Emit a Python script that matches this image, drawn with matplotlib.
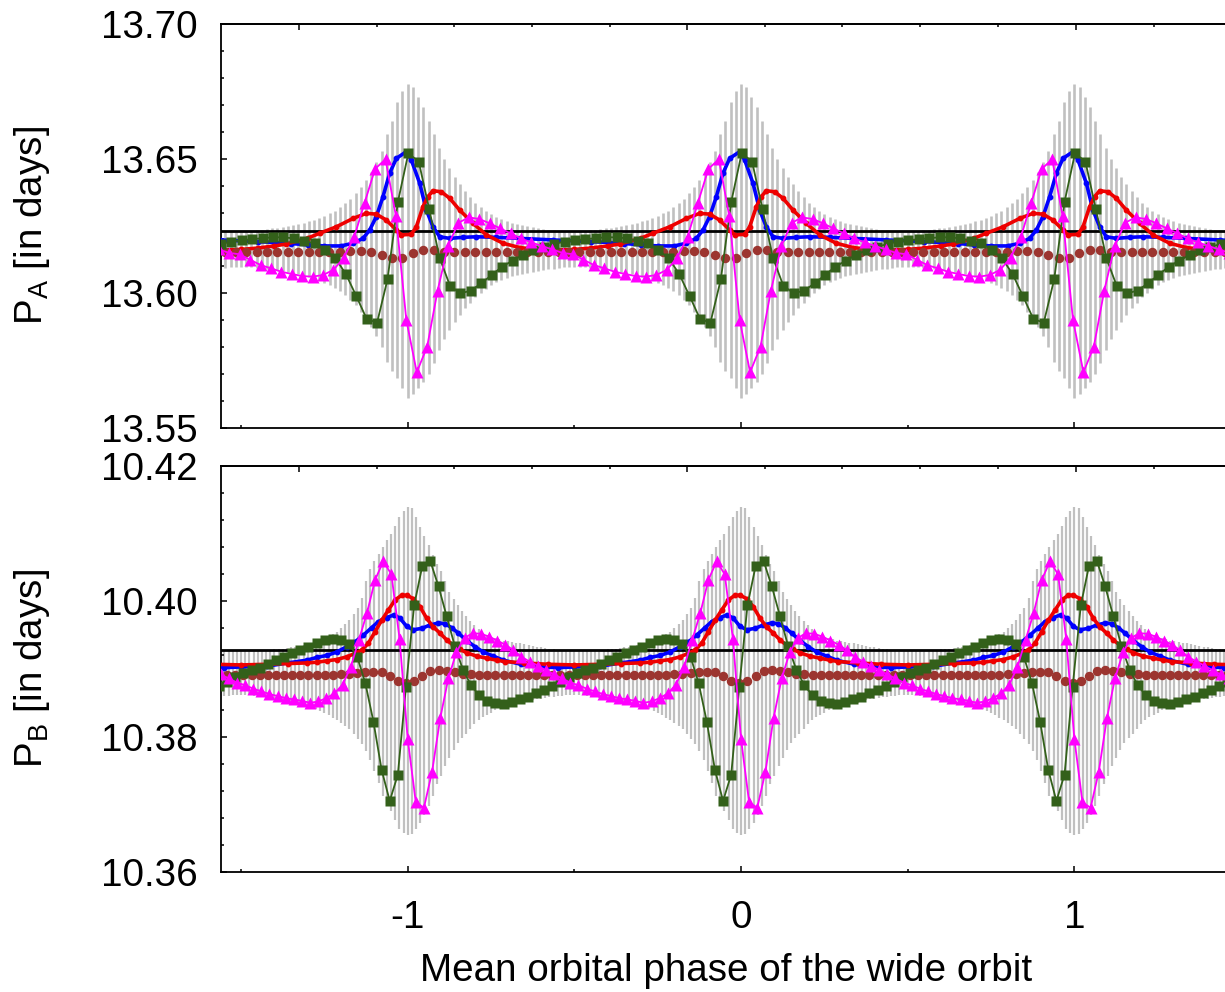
import numpy as np
import matplotlib
matplotlib.use("Agg")
import matplotlib.pyplot as plt
from matplotlib.ticker import MultipleLocator, FixedLocator, NullFormatter, FormatStrFormatter

plt.rcParams['font.family'] = ['Liberation Sans', 'DejaVu Sans']
plt.rcParams['mathtext.fontset'] = 'custom'
plt.rcParams['mathtext.rm'] = 'Liberation Sans'
plt.rcParams['mathtext.it'] = 'Liberation Sans:italic'
plt.rcParams['axes.unicode_minus'] = False

# ---------------- data: one wide-orbit cycle (phase relative to nearest integer) ----------------
cycles = [-2, -1, 0, 1, 2]

# ---- top panel: P_A ----
A_ref = 13.6231
A_n = 32                      # samples per cycle (markers)
A_mag_off, A_grn_off, A_brn_off = -0.004, 0.002, -0.016
A_mag = [13.6145, 13.6125, 13.6105, 13.6093, 13.6080, 13.6072, 13.6064, 13.6062,
         13.6068, 13.6087, 13.6132, 13.6210, 13.6337, 13.6462, 13.6498, 13.6287,
         13.5901, 13.5707, 13.5802, 13.6010, 13.6176, 13.6262, 13.6282, 13.6276,
         13.6260, 13.6241, 13.6223, 13.6204, 13.6189, 13.6176, 13.6163, 13.6150]
A_grn = [13.6197, 13.6201, 13.6205, 13.6208, 13.6208, 13.6204, 13.6195, 13.6186,
         13.6161, 13.6130, 13.6072, 13.5990, 13.5905, 13.5891, 13.6052, 13.6340,
         13.6520, 13.6489, 13.6313, 13.6132, 13.6028, 13.6000, 13.6010, 13.6037,
         13.6068, 13.6099, 13.6121, 13.6142, 13.6161, 13.6173, 13.6183, 13.6192]
A_brn = [13.6152, 13.6152, 13.6152, 13.6152, 13.6152, 13.6152, 13.6152, 13.6152,
         13.6152, 13.6152, 13.6153, 13.6157, 13.6156, 13.6153, 13.6143, 13.6131,
         13.6130, 13.6149, 13.6160, 13.6160, 13.6154, 13.6152, 13.6152, 13.6152,
         13.6152, 13.6152, 13.6152, 13.6152, 13.6152, 13.6152, 13.6152, 13.6152]
A_blue_ph = [-0.50, -0.45, -0.40, -0.35, -0.30, -0.25, -0.20, -0.164, -0.134, -0.114,
             -0.094, -0.074, -0.054, -0.034, -0.004, 0.011, 0.036, 0.056, 0.076, 0.096,
             0.126, 0.166, 0.206, 0.266, 0.336, 0.436]
A_blue = [13.6195, 13.6192, 13.6189, 13.6185, 13.6180, 13.6176, 13.6176, 13.6186, 13.6204, 13.6235,
          13.6285, 13.6359, 13.6446, 13.6501, 13.6526, 13.6495, 13.6409, 13.6309, 13.6247, 13.6210,
          13.6204, 13.6208, 13.6210, 13.6208, 13.6204, 13.6198]
A_red_ph = [-0.50, -0.45, -0.40, -0.364, -0.30, -0.264, -0.214, -0.164, -0.124, -0.094,
            -0.064, -0.034, -0.019, 0.011, 0.026, 0.046, 0.061, 0.076, 0.101, 0.126,
            0.156, 0.196, 0.236, 0.286, 0.336, 0.386, 0.436]
A_red = [13.6163, 13.6168, 13.6176, 13.6183, 13.6205, 13.6223, 13.6247, 13.6278, 13.6297, 13.6294,
         13.6272, 13.6235, 13.6217, 13.6219, 13.6247, 13.6322, 13.6359, 13.6381, 13.6377, 13.6353,
         13.6309, 13.6260, 13.6217, 13.6186, 13.6170, 13.6163, 13.6161]
A_gray_n = 64
A_gray_hi = [13.6228, 13.6230, 13.6232, 13.6234, 13.6236, 13.6238, 13.6241, 13.6244,
             13.6247, 13.6250, 13.6254, 13.6258, 13.6262, 13.6267, 13.6273, 13.6280,
             13.6288, 13.6297, 13.6307, 13.6320, 13.6335, 13.6352, 13.6372, 13.6395,
             13.6422, 13.6452, 13.6488, 13.6528, 13.6590, 13.6640, 13.6712, 13.6750,
             13.6776, 13.6765, 13.6730, 13.6690, 13.6640, 13.6590, 13.6540, 13.6500,
             13.6465, 13.6433, 13.6405, 13.6380, 13.6357, 13.6337, 13.6320, 13.6305,
             13.6293, 13.6283, 13.6275, 13.6268, 13.6262, 13.6257, 13.6253, 13.6249,
             13.6245, 13.6242, 13.6239, 13.6236, 13.6234, 13.6232, 13.6230, 13.6229]
A_gray_lo = [13.6098, 13.6097, 13.6096, 13.6095, 13.6094, 13.6092, 13.6089, 13.6086,
             13.6083, 13.6079, 13.6075, 13.6071, 13.6066, 13.6061, 13.6055, 13.6048,
             13.6040, 13.6031, 13.6020, 13.6007, 13.5992, 13.5975, 13.5955, 13.5932,
             13.5905, 13.5875, 13.5840, 13.5800, 13.5745, 13.5710, 13.5684, 13.5650,
             13.5610, 13.5625, 13.5647, 13.5670, 13.5700, 13.5740, 13.5790, 13.5830,
             13.5865, 13.5895, 13.5920, 13.5945, 13.5965, 13.5985, 13.6002, 13.6017,
             13.6030, 13.6041, 13.6050, 13.6057, 13.6063, 13.6068, 13.6072, 13.6076,
             13.6080, 13.6083, 13.6086, 13.6089, 13.6092, 13.6094, 13.6096, 13.6097]

# ---- bottom panel: P_B ----
B_ref = 10.3928
B_n = 41
B_mag_off, B_grn_off, B_brn_off = 0.0, -0.005, -0.005
B_mag = [10.3876, 10.3871, 10.3867, 10.3863, 10.3860, 10.3857, 10.3855, 10.3853, 10.3850, 10.3852,
         10.3857, 10.3864, 10.3877, 10.3903, 10.3943, 10.3983, 10.4032, 10.4059, 10.4040, 10.3945,
         10.3797, 10.3703, 10.3695, 10.3748, 10.3827, 10.3886, 10.3925, 10.3946, 10.3953, 10.3952,
         10.3948, 10.3942, 10.3936, 10.3928, 10.3918, 10.3911, 10.3905, 10.3898, 10.3892, 10.3886,
         10.3880]
B_grn = [10.3894, 10.3899, 10.3902, 10.3908, 10.3913, 10.3918, 10.3923, 10.3928, 10.3932, 10.3939,
         10.3943, 10.3944, 10.3943, 10.3937, 10.3918, 10.3879, 10.3822, 10.3751, 10.3705, 10.3744,
         10.3874, 10.3994, 10.4052, 10.4059, 10.4022, 10.3978, 10.3934, 10.3899, 10.3876, 10.3861,
         10.3853, 10.3850, 10.3849, 10.3851, 10.3855, 10.3859, 10.3864, 10.3869, 10.3875, 10.3881,
         10.3888]
B_brn = [10.3891, 10.3891, 10.3891, 10.3891, 10.3891, 10.3891, 10.3891, 10.3891, 10.3891, 10.3891,
         10.3891, 10.3891, 10.3892, 10.3893, 10.3894, 10.3896, 10.3896, 10.3895, 10.3889, 10.3882,
         10.3879, 10.3882, 10.3889, 10.3897, 10.3898, 10.3897, 10.3895, 10.3893, 10.3892, 10.3891,
         10.3891, 10.3891, 10.3891, 10.3891, 10.3891, 10.3891, 10.3891, 10.3891, 10.3891, 10.3891,
         10.3891]
B_blue_ph = [-0.50, -0.423, -0.36, -0.303, -0.273, -0.243, -0.213, -0.183, -0.158, -0.133,
             -0.108, -0.088, -0.063, -0.041, -0.023, -0.003, 0.017, 0.042, 0.067, 0.092,
             0.112, 0.132, 0.152, 0.177, 0.202, 0.227, 0.257, 0.287, 0.34, 0.40, 0.45]
B_blue = [10.3903, 10.3904, 10.3909, 10.3913, 10.3917, 10.3920, 10.3925, 10.3933, 10.3940, 10.3950,
          10.3961, 10.3970, 10.3976, 10.3980, 10.3975, 10.3963, 10.3958, 10.3960, 10.3965, 10.3968,
          10.3967, 10.3961, 10.3953, 10.3942, 10.3933, 10.3925, 10.3919, 10.3913, 10.3907, 10.3903,
          10.3902]
B_red_ph = [-0.50, -0.42, -0.36, -0.303, -0.273, -0.243, -0.213, -0.183, -0.158, -0.138,
            -0.118, -0.098, -0.078, -0.058, -0.038, -0.018, -0.003, 0.017, 0.037, 0.057,
            0.077, 0.097, 0.117, 0.137, 0.157, 0.177, 0.207, 0.237, 0.267, 0.292, 0.35, 0.42]
B_red = [10.3906, 10.3907, 10.3908, 10.3909, 10.3910, 10.3912, 10.3914, 10.3918, 10.3923, 10.3928,
         10.3938, 10.3955, 10.3972, 10.3987, 10.4002, 10.4009, 10.4009, 10.4004, 10.3992, 10.3975,
         10.3962, 10.3953, 10.3943, 10.3935, 10.3929, 10.3924, 10.3919, 10.3916, 10.3913, 10.3911,
         10.3909, 10.3907]
B_gray_n = 80
B_gray_hi = [10.3926, 10.3926, 10.3927, 10.3927, 10.3927, 10.3928, 10.3928, 10.3928, 10.3929, 10.3930,
             10.3930, 10.3931, 10.3932, 10.3933, 10.3934, 10.3935, 10.3937, 10.3938, 10.3940, 10.3942,
             10.3945, 10.3948, 10.3951, 10.3955, 10.3960, 10.3966, 10.3973, 10.3981, 10.3990, 10.4005,
             10.4030, 10.4048, 10.4060, 10.4070, 10.4080, 10.4090, 10.4100, 10.4112, 10.4124, 10.4134,
             10.4140, 10.4138, 10.4124, 10.4110, 10.4096, 10.4083, 10.4068, 10.4055, 10.4045, 10.4030,
             10.4014, 10.4003, 10.3995, 10.3986, 10.3978, 10.3971, 10.3965, 10.3959, 10.3953, 10.3950,
             10.3948, 10.3946, 10.3944, 10.3942, 10.3941, 10.3940, 10.3939, 10.3938, 10.3937, 10.3936,
             10.3934, 10.3933, 10.3932, 10.3931, 10.3930, 10.3929, 10.3928, 10.3928, 10.3927, 10.3927]
B_gray_lo = [10.3862, 10.3861, 10.3861, 10.3860, 10.3859, 10.3858, 10.3857, 10.3857, 10.3856, 10.3855,
             10.3854, 10.3853, 10.3852, 10.3851, 10.3849, 10.3847, 10.3845, 10.3843, 10.3841, 10.3838,
             10.3835, 10.3832, 10.3828, 10.3824, 10.3820, 10.3816, 10.3811, 10.3804, 10.3797, 10.3789,
             10.3779, 10.3766, 10.3750, 10.3732, 10.3713, 10.3700, 10.3690, 10.3677, 10.3664, 10.3657,
             10.3654, 10.3656, 10.3663, 10.3672, 10.3684, 10.3697, 10.3713, 10.3730, 10.3742, 10.3757,
             10.3768, 10.3780, 10.3790, 10.3798, 10.3804, 10.3811, 10.3818, 10.3824, 10.3829, 10.3832,
             10.3835, 10.3839, 10.3842, 10.3844, 10.3845, 10.3847, 10.3848, 10.3849, 10.3850, 10.3852,
             10.3854, 10.3855, 10.3856, 10.3857, 10.3858, 10.3859, 10.3860, 10.3860, 10.3861, 10.3861]

# tick positions of the secondary (top) axis, in phase units
x2_major = [-1.326, -0.162, 1.005]
x2_minor = [-1.093, -0.860, -0.627, -0.394, 0.071, 0.304, 0.538, 0.771, 1.238]

x_ticklabels = ['-1', '0', '1']
xlab = 'Mean orbital phase of the wide orbit'
ylabA = r'$\mathrm{P_A}$ [in days]'
ylabB = r'$\mathrm{P_B}$ [in days]'

# ---------------- helpers ----------------
def grid(n, off):
    return np.arange(-(n // 2), n - n // 2) / n + off

def tile(ph, vals):
    ph = np.asarray(ph, float)
    x = np.concatenate([c + ph for c in cycles])
    y = np.tile(np.asarray(vals, float), len(cycles))
    return x, y

FS = 27.8
W, H = 1225, 992
fig = plt.figure(figsize=(W / 100, H / 100), dpi=100)
L = 221 / W
axA = fig.add_axes([L, 1 - 428 / H, 1 - L, (428 - 24) / H])
axB = fig.add_axes([L, 1 - 872 / H, 1 - L, (872 - 466) / H])

def draw(ax, n, mag_off, grn_off, brn_off, mag, grn, brn, bph, bv, rph, rv,
         gn, ghi, glo, ref, gray_lw):
    x, hi = tile(grid(gn, 0.0), ghi)
    _, lo = tile(grid(gn, 0.0), glo)
    ax.vlines(x, lo, hi, colors='#c0c0c0', lw=gray_lw, zorder=1)
    ax.axhline(ref, color='black', lw=2.0, zorder=2)
    x, y = tile(bph, bv)
    ax.plot(x, y, '-', color='#0000ff', lw=2.6, marker='o', ms=3.2, zorder=3)
    x, y = tile(rph, rv)
    ax.plot(x, y, '-', color='#ee0000', lw=2.6, marker='o', ms=3.2, zorder=4)
    x, y = tile(grid(n, brn_off), brn)
    ax.plot(x, y, 'o', color='#9c3530', ms=6.8, mec='none', zorder=5)
    x, y = tile(grid(n, grn_off), grn)
    ax.plot(x, y, '-', color='#33601a', lw=1.3, marker='s', ms=6.8, mec='none', zorder=6)
    x, y = tile(grid(n, mag_off), mag)
    ax.plot(x, y, '-', color='#ff00ff', lw=1.3, marker='^', ms=8.0, mec='none', zorder=7)

draw(axA, A_n, A_mag_off, A_grn_off, A_brn_off, A_mag, A_grn, A_brn,
     A_blue_ph, A_blue, A_red_ph, A_red, A_gray_n, A_gray_hi, A_gray_lo, A_ref, 1.9)
draw(axB, B_n, B_mag_off, B_grn_off, B_brn_off, B_mag, B_grn, B_brn,
     B_blue_ph, B_blue, B_red_ph, B_red, B_gray_n, B_gray_hi, B_gray_lo, B_ref, 1.6)

axA.set_ylim(13.55, 13.70)
axA.yaxis.set_major_locator(MultipleLocator(0.05))
axA.yaxis.set_minor_locator(MultipleLocator(0.01))
axB.set_ylim(10.36, 10.42)
axB.yaxis.set_major_locator(MultipleLocator(0.02))
axB.yaxis.set_minor_locator(MultipleLocator(0.004))

for ax in (axA, axB):
    ax.set_xlim(-1.560, 1.452)
    ax.xaxis.set_major_locator(FixedLocator([-1, 0, 1]))
    ax.xaxis.set_minor_locator(MultipleLocator(0.5))
    ax.yaxis.set_major_formatter(FormatStrFormatter('%.2f'))
    ax.spines['right'].set_visible(False)
    for s in ('left', 'top', 'bottom'):
        ax.spines[s].set_linewidth(1.3)
    ax.tick_params(which='both', direction='in', top=False, right=False, width=1.1)
    ax.tick_params(which='major', length=4.5)
    ax.tick_params(which='minor', length=2.3)
    ax.tick_params(axis='y', labelsize=FS, pad=17)
    ax.tick_params(axis='x', labelsize=FS, pad=20)
    sec = ax.secondary_xaxis('top')
    sec.xaxis.set_major_locator(FixedLocator(x2_major))
    sec.xaxis.set_minor_locator(FixedLocator(x2_minor))
    sec.xaxis.set_major_formatter(NullFormatter())
    sec.tick_params(which='both', direction='in', width=1.1)
    sec.tick_params(which='major', length=4.5)
    sec.tick_params(which='minor', length=2.3)
    sec.spines['top'].set_linewidth(1.3)

axA.tick_params(axis='x', labelbottom=False)
axB.set_xticklabels(x_ticklabels)

axA.set_ylabel(ylabA, fontsize=FS)
axB.set_ylabel(ylabB, fontsize=FS)
axA.yaxis.set_label_coords(-0.168, 0.5)
axB.yaxis.set_label_coords(-0.168, 0.5)
axB.set_xlabel(xlab, fontsize=FS)
axB.xaxis.set_label_coords(0.5035, -0.200)

fig.savefig('out.png', dpi=100)
